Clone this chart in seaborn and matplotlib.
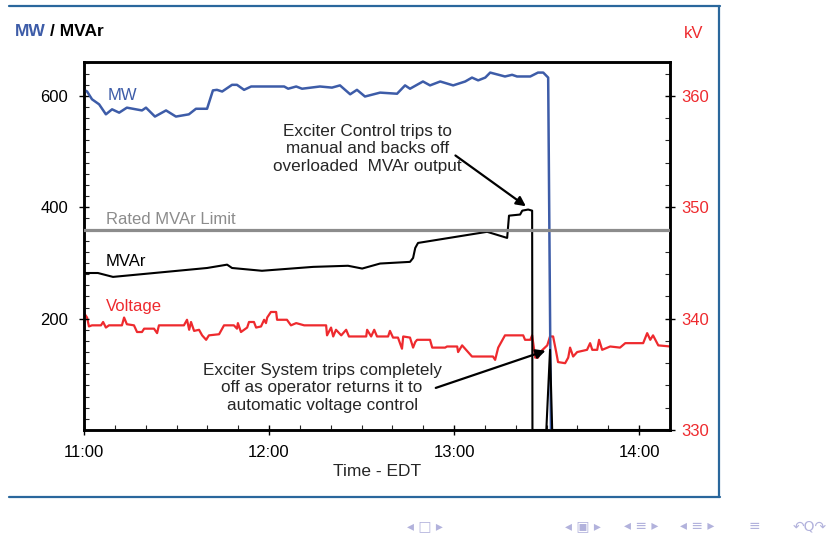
import matplotlib
matplotlib.use("Agg")
import matplotlib.pyplot as plt
import seaborn as sns
from matplotlib.ticker import MultipleLocator, FixedLocator
from matplotlib.lines import Line2D

# time axis: minutes after 11:00 EDT
mw_t = [0, 1, 2.6, 4.9, 7.1, 9.1, 11.4, 13.9, 18.8, 20.1, 23, 26.6, 29.8, 34, 36.3,
        39.9, 41.8, 43.1, 44.8, 48, 49.6, 51.9, 54.2, 64.9, 66.2, 68.8, 70.7, 76.5,
        80.4, 83, 86.3, 88.5, 91.1, 96, 101.5, 104.1, 105.7, 109.9, 112.2, 115.5,
        119.7, 123.6, 125.8, 127.8, 130.1, 131.7, 136.5, 138.8, 140.4, 144.7, 147.2,
        148.9, 150.5, 151.4]
mw = [611, 608, 594, 585, 567, 576, 570, 579, 574, 579, 563, 574, 563, 567, 577,
      577, 610, 611, 608, 620, 620, 611, 617, 617, 613, 617, 613, 617,
      615, 619, 603, 611, 599, 606, 604, 619, 613, 626, 619, 626,
      619, 626, 633, 628, 633, 642, 635, 638, 635, 635, 642,
      642, 633, 0]

mvar_t = [0, 4.5, 9.4, 39.9, 46.4, 48, 57.7, 74.3, 85.6, 90.2, 96, 105.7, 106.7,
          107.4, 108.3, 130.7, 137.2, 137.8, 141.4, 142.1, 144, 145.3, 145.4,
          149.9, 151.1, 151.8, 190.1]
mvar = [282, 282, 275, 291, 297, 291, 286, 293, 295, 290, 299, 302, 309,
        327, 336, 356, 345, 385, 387, 394, 396, 394, 0,
        0, 144, 0, 0]

kv_t = [0, 1, 1.6, 2.6, 5.5, 6.2, 7.1, 8.1, 12.3, 13, 13.9, 16.2, 17.2, 18.8, 19.5,
        22.7, 23.7, 24.3, 32.4, 33.4, 34.1, 34.7, 35.7, 37.3, 38.3, 39.6, 40.5,
        43.8, 45.4, 48.6, 49.6, 49.9, 50.9, 52.9, 53.5, 55.1, 55.8, 57.4, 58.4,
        59, 59.4, 60.6, 62.3, 62.6, 65.8, 67.1, 68.8, 71.4, 75.6, 78.5, 78.8,
        80.1, 80.8, 81.7, 83.4, 85, 85.9, 91.5, 91.8, 93.1, 94.1, 95, 98.6, 99.2,
        100.2, 101.8, 103.1, 103.5, 105.7, 106.7, 107.4, 108, 112.2, 112.9, 117.1,
        117.7, 121, 121.3, 122.6, 125.8, 132.6, 133.3, 134.3, 136.5, 142.4, 143,
        144.7, 145.3, 146.3, 147.2, 147.9, 150.2, 151.1, 152.1, 153.1, 153.7, 156,
        157, 157.6, 158.6, 159.9, 163.1, 164.1, 164.8, 166.4, 167, 168, 170.6,
        173.8, 175.5, 181.3, 182.6, 183.6, 184.5, 186.2, 190.1]
kv = [340.5, 340.1, 339.3, 339.4, 339.4, 339.7, 339.2, 339.4, 339.4, 340.1, 339.5,
      339.4, 338.8, 338.8, 339.1, 339.1, 338.7, 339.4, 339.4, 339.9, 339.0, 339.7,
      338.9, 339.0, 338.5, 338.1, 338.5, 338.6, 339.4, 339.4, 339.1, 339.6, 338.8,
      339.2, 339.7, 339.7, 339.2, 339.3, 339.9, 339.6, 340.1, 340.6, 340.6, 339.9,
      339.9, 339.4, 339.6, 339.4, 339.4, 339.4, 338.5, 339.2, 338.4, 339.0, 338.5,
      339.0, 338.4, 338.4, 339.0, 338.4, 339.0, 338.4, 338.4, 338.9, 338.3, 338.3,
      337.3, 338.4, 338.3, 337.4, 337.9, 338.1, 338.1, 337.4, 337.4, 337.5, 337.5,
      337.0, 337.6, 336.6, 336.6, 336.3, 337.4, 338.5, 338.5, 338.1, 338.1, 338.5,
      336.5, 336.5, 337.0, 337.6, 338.4, 338.4, 337.0, 336.1, 336.0, 336.5, 337.4,
      336.6, 337.0, 337.2, 337.8, 337.2, 337.2, 338.1, 337.2, 337.5, 337.4, 337.8,
      337.8, 338.7, 338.1, 338.5, 337.6, 337.5]

rated_mvar = 360
hour_ticks = [0, 60, 120, 180]
hour_labels = ["11:00", "12:00", "13:00", "14:00"]

BLUE = "#3d5ca8"
RED = "#ee2a2e"
GRAY = "#8c8c8c"
FRAME = "#2a679c"
NAV = "#b2b2dc"

sns.set_style("white")
plt.rcParams["font.family"] = ["Liberation Sans", "DejaVu Sans"]

W, H = 834, 535
fig = plt.figure(figsize=(8.34, 5.35), dpi=100)
ax = fig.add_axes([84 / W, 1 - 430 / H, 586 / W, 368 / H])
ax2 = ax.twinx()
ax.set_zorder(ax2.get_zorder() + 1)
ax.patch.set_visible(False)

sns.lineplot(x=kv_t, y=kv, ax=ax2, color=RED, lw=1.6, sort=False, estimator=None)
sns.lineplot(x=mw_t, y=mw, ax=ax, color=BLUE, lw=1.8, sort=False, estimator=None)
sns.lineplot(x=mvar_t, y=mvar, ax=ax, color="black", lw=1.5, sort=False, estimator=None)
ax.axhline(rated_mvar, color=GRAY, lw=2.3, zorder=5)

ax.set_xlim(0, 190)
ax.set_ylim(0, 661)
ax2.set_ylim(330, 363.05)

ax.xaxis.set_major_locator(FixedLocator(hour_ticks))
ax.set_xticklabels(hour_labels)
ax.xaxis.set_minor_locator(MultipleLocator(10))
ax.yaxis.set_major_locator(FixedLocator([200, 400, 600]))
ax.yaxis.set_minor_locator(MultipleLocator(20))
ax2.yaxis.set_major_locator(FixedLocator([330, 340, 350, 360]))
ax2.yaxis.set_minor_locator(MultipleLocator(2))

ax.tick_params(which="major", direction="inout", length=7, width=1, labelsize=12,
               colors="black", bottom=True, left=True, top=False, right=False)
ax.tick_params(axis="y", which="major", pad=8)
ax.tick_params(axis="x", which="major", pad=7)
ax.tick_params(which="minor", direction="in", length=3.5, width=0.8,
               bottom=True, left=True, top=False, right=False)
ax2.tick_params(which="major", direction="inout", length=7, width=1, labelsize=12,
                labelcolor=RED, color="black", right=True, left=False, pad=5)
ax2.tick_params(which="minor", direction="in", length=3.5, width=0.8,
                right=True, left=False)
ax2.set_ylabel("")
ax.set_ylabel("")

for a in (ax, ax2):
    for s in a.spines.values():
        s.set_visible(True)
        s.set_linewidth(1.8)
        s.set_color("black")

ax.set_xlabel("Time - EDT", fontsize=12.5, labelpad=3)

# series labels
ax.text(7.5, 601, "MW", color=BLUE, fontsize=12, va="center")
ax.text(7.1, 378, "Rated MVAr Limit", color=GRAY, fontsize=12, va="center")
ax.text(7.1, 302, "MVAr", color="black", fontsize=12, va="center")
ax.text(7.1, 221, "Voltage", color=RED, fontsize=12, va="center")

# annotations
ax.text(91.8, 505, "Exciter Control trips to\nmanual and backs off\noverloaded  MVAr output",
        ha="center", va="center", fontsize=12.3, linespacing=1.2)
ax.annotate("", xy=(144.0, 399), xytext=(119.7, 496),
            arrowprops=dict(arrowstyle="-|>", color="black", lw=1.6, mutation_scale=14))
ax.text(77.2, 75.5, "Exciter System trips completely\noff as operator returns it to\nautomatic voltage control",
        ha="center", va="center", fontsize=12.3, linespacing=1.2)
ax.annotate("", xy=(150.5, 144), xytext=(113.2, 74),
            arrowprops=dict(arrowstyle="-|>", color="black", lw=1.6, mutation_scale=14))

# axis titles at top
fig.text(15 / W, 1 - 31 / H, "MW", color=BLUE, fontsize=12.5, fontweight="bold", va="center")
fig.text(50 / W, 1 - 31 / H, "/ MVAr", color="black", fontsize=12.5, fontweight="bold", va="center")
fig.text(684 / W, 1 - 33 / H, "kV", color=RED, fontsize=12, va="center")

# slide frame
fy_top, fy_bot = 1 - 6 / H, 1 - 497 / H
fig.add_artist(Line2D([9 / W, 720 / W], [fy_top, fy_top], color=FRAME, lw=1.6))
fig.add_artist(Line2D([9 / W, 720 / W], [fy_bot, fy_bot], color=FRAME, lw=1.6))
fig.add_artist(Line2D([719 / W, 719 / W], [fy_top, fy_bot], color=FRAME, lw=1.6))

# navigation symbols
ny = 1 - 526 / H
for xc, s in [(425, "◂ □ ▸"), (583, "◂ ▣ ▸"), (641, "◂ ≡ ▸"), (697, "◂ ≡ ▸"),
              (754, "≡"), (810, "↶Q↷")]:
    fig.text(xc / W, ny, s, color=NAV, fontsize=10, ha="center", va="center",
             family=["DejaVu Sans"])

fig.savefig("out.png", dpi=100)
